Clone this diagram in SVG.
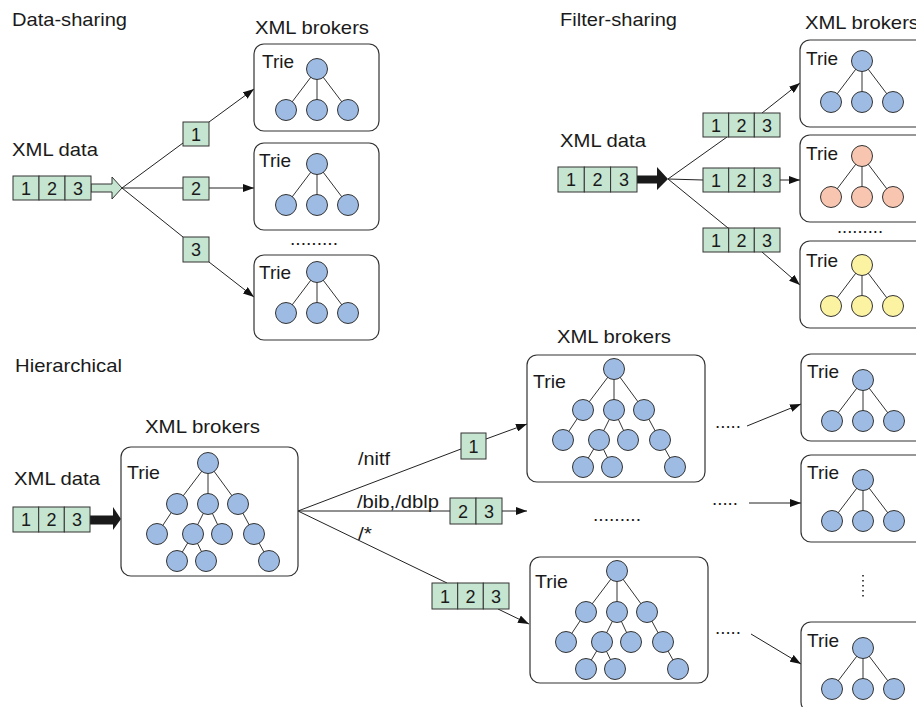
<svg xmlns="http://www.w3.org/2000/svg" xmlns:xlink="http://www.w3.org/1999/xlink" width="916" height="707" viewBox="0 0 916 707">
<style>
text{font-family:"Liberation Sans",Arial,sans-serif;fill:#1a1a1a}
.h{font-size:19px}
.t{font-size:18.5px}
.d{font-size:18px;text-anchor:middle}
.dots{font-size:18px}
.box{fill:#fff;stroke:#333;stroke-width:1.2}
.cell{fill:#c6e5d0;stroke:#333;stroke-width:1}
.e{stroke:#333;stroke-width:1;fill:none}
.c{stroke:#333;stroke-width:1}
.ln{stroke:#222;stroke-width:1;fill:none}
.arr{marker-end:url(#ah)}
.blue{fill:#9dbbe3}
.pink{fill:#f8c5b0}
.yel{fill:#fbf2a2}
</style>
<defs>
<marker id="ah" markerUnits="userSpaceOnUse" markerWidth="12" markerHeight="8" refX="11" refY="4" orient="auto">
<path d="M0,0 L11,4 L0,8 z" fill="#111"/>
</marker>
<g id="tree3">
<path class="e" d="M0,0 L-31,41 M0,0 L0,41 M0,0 L31,41"/>
<circle class="c" cx="0" cy="0" r="10.5"/>
<circle class="c" cx="-31" cy="41" r="10.5"/>
<circle class="c" cx="0" cy="41" r="10.5"/>
<circle class="c" cx="31" cy="41" r="10.5"/>
</g>
<g id="treeBig">
<path class="e" d="M0,0 L-31,41 M0,0 L0,41 M0,0 L30,41 M-31,41 L-51,71 M0,41 L-15,71 M0,41 L14,71 M30,41 L46,71 M-15,71 L-31,98 M-15,71 L-2,98 M46,71 L61,98"/>
<circle class="c" cx="0" cy="0" r="10.5"/>
<circle class="c" cx="-31" cy="41" r="10.5"/>
<circle class="c" cx="0" cy="41" r="10.5"/>
<circle class="c" cx="30" cy="41" r="10.5"/>
<circle class="c" cx="-51" cy="71" r="10.5"/>
<circle class="c" cx="-15" cy="71" r="10.5"/>
<circle class="c" cx="14" cy="71" r="10.5"/>
<circle class="c" cx="46" cy="71" r="10.5"/>
<circle class="c" cx="-31" cy="98" r="10.5"/>
<circle class="c" cx="-2" cy="98" r="10.5"/>
<circle class="c" cx="61" cy="98" r="10.5"/>
</g>
</defs>
<rect width="916" height="707" fill="#fff"/>

<!-- section titles -->
<text class="h" x="12" y="26" textLength="115" lengthAdjust="spacingAndGlyphs">Data-sharing</text>
<text class="h" x="560" y="26" textLength="117" lengthAdjust="spacingAndGlyphs">Filter-sharing</text>
<text class="h" x="15" y="372" textLength="107" lengthAdjust="spacingAndGlyphs">Hierarchical</text>
<text class="h" x="255" y="34" textLength="114" lengthAdjust="spacingAndGlyphs">XML brokers</text>
<text class="h" x="805" y="29" textLength="114" lengthAdjust="spacingAndGlyphs">XML brokers</text>
<text class="h" x="145" y="433" textLength="115" lengthAdjust="spacingAndGlyphs">XML brokers</text>
<text class="h" x="557" y="343" textLength="114" lengthAdjust="spacingAndGlyphs">XML brokers</text>

<!-- connectors -->
<g id="connectors">
<path d="M91,184 L112,184 L112,177 L122,188 L112,199 L112,192 L91,192 z" fill="#c6e5d0" stroke="#333" stroke-width="1"/>
<line class="ln" x1="122" y1="188" x2="183" y2="143"/>
<line class="ln" x1="122" y1="188" x2="183" y2="188"/>
<line class="ln" x1="122" y1="188" x2="183" y2="237"/>
<line class="ln arr" x1="209" y1="122" x2="254" y2="89"/>
<line class="ln arr" x1="209" y1="188" x2="254" y2="188"/>
<line class="ln arr" x1="209" y1="262" x2="254" y2="297"/>

<path d="M637,175.5 L657,175.5 L657,167 L668,179 L657,190 L657,183.5 L637,183.5 z" fill="#1a1a1a"/>
<line class="ln" x1="668" y1="179" x2="727" y2="137"/>
<line class="ln" x1="668" y1="179" x2="703" y2="180"/>
<line class="ln" x1="668" y1="179" x2="728" y2="228"/>
<line class="ln arr" x1="762" y1="113" x2="800" y2="83"/>
<line class="ln arr" x1="780" y1="180" x2="800" y2="180"/>
<line class="ln arr" x1="762" y1="252" x2="800" y2="285"/>

<path d="M90,515.5 L113,515.5 L113,507 L121,519 L113,530 L113,524.5 L90,524.5 z" fill="#1a1a1a"/>
<line class="ln" x1="298" y1="511" x2="461" y2="449"/>
<line class="ln" x1="298" y1="511" x2="450" y2="511"/>
<line class="ln" x1="298" y1="511" x2="447" y2="583"/>
<line class="ln arr" x1="486" y1="439" x2="527" y2="424"/>
<line class="ln arr" x1="502" y1="511" x2="527" y2="511"/>
<line class="ln arr" x1="498" y1="609" x2="529" y2="624"/>
<line class="ln arr" x1="747" y1="426" x2="801" y2="404"/>
<line class="ln arr" x1="749" y1="503" x2="801" y2="503"/>
<line class="ln arr" x1="751" y1="634" x2="801" y2="664"/>
</g>

<!-- path labels -->
<text class="h" x="358" y="465" textLength="32" lengthAdjust="spacingAndGlyphs">/nitf</text>
<text class="h" x="357" y="508" textLength="82" lengthAdjust="spacingAndGlyphs">/bib,/dblp</text>
<text class="h" x="358" y="540" textLength="14" lengthAdjust="spacingAndGlyphs">/*</text>

<!-- data-sharing -->
<g id="ds-input">
<text class="h" x="12" y="156" textLength="86" lengthAdjust="spacingAndGlyphs">XML data</text>
<rect class="cell" x="13" y="176" width="26" height="24"/><rect class="cell" x="39" y="176" width="26" height="24"/><rect class="cell" x="65" y="176" width="26" height="24"/>
<text class="d" x="26" y="194.5">1</text><text class="d" x="52" y="194.5">2</text><text class="d" x="78" y="194.5">3</text>
</g>
<g id="ds-msg1"><rect class="cell" x="183" y="122" width="26" height="24"/><text class="d" x="196" y="140.5">1</text></g>
<g id="ds-msg2"><rect class="cell" x="183" y="177" width="26" height="23"/><text class="d" x="196" y="194.5">2</text></g>
<g id="ds-msg3"><rect class="cell" x="183" y="237" width="26" height="25"/><text class="d" x="196" y="256">3</text></g>
<g id="ds-broker1"><rect class="box" x="254" y="44" width="125" height="87" rx="10"/><text class="t" x="262" y="68" textLength="32" lengthAdjust="spacingAndGlyphs">Trie</text><use xlink:href="#tree3" x="317" y="69" class="blue"/></g>
<g id="ds-broker2"><rect class="box" x="254" y="143" width="125" height="87" rx="10"/><text class="t" x="259" y="167" textLength="32" lengthAdjust="spacingAndGlyphs">Trie</text><use xlink:href="#tree3" x="317" y="164" class="blue"/></g>
<text class="dots" x="290" y="245" textLength="48" lengthAdjust="spacingAndGlyphs">.........</text>
<g id="ds-broker3"><rect class="box" x="254" y="255" width="125" height="85" rx="10"/><text class="t" x="259" y="279" textLength="32" lengthAdjust="spacingAndGlyphs">Trie</text><use xlink:href="#tree3" x="317" y="272" class="blue"/></g>

<!-- filter-sharing -->
<g id="fs-input">
<text class="h" x="560" y="147" textLength="86" lengthAdjust="spacingAndGlyphs">XML data</text>
<rect class="cell" x="558" y="167" width="26.3" height="25"/><rect class="cell" x="584.3" y="167" width="26.3" height="25"/><rect class="cell" x="610.6" y="167" width="26.4" height="25"/>
<text class="d" x="571" y="186">1</text><text class="d" x="597.5" y="186">2</text><text class="d" x="624" y="186">3</text>
</g>
<g id="fs-msg1"><rect class="cell" x="703" y="113" width="25.7" height="24"/><rect class="cell" x="728.7" y="113" width="25.6" height="24"/><rect class="cell" x="754.3" y="113" width="25.7" height="24"/><text class="d" x="716" y="131.5">1</text><text class="d" x="741.5" y="131.5">2</text><text class="d" x="767" y="131.5">3</text></g>
<g id="fs-msg2"><rect class="cell" x="703" y="168" width="25.7" height="24"/><rect class="cell" x="728.7" y="168" width="25.6" height="24"/><rect class="cell" x="754.3" y="168" width="25.7" height="24"/><text class="d" x="716" y="186.5">1</text><text class="d" x="741.5" y="186.5">2</text><text class="d" x="767" y="186.5">3</text></g>
<g id="fs-msg3"><rect class="cell" x="703" y="228" width="25.7" height="24"/><rect class="cell" x="728.7" y="228" width="25.6" height="24"/><rect class="cell" x="754.3" y="228" width="25.7" height="24"/><text class="d" x="716" y="246.5">1</text><text class="d" x="741.5" y="246.5">2</text><text class="d" x="767" y="246.5">3</text></g>
<g id="fs-broker1"><rect class="box" x="800" y="40" width="140" height="87" rx="10"/><text class="t" x="806" y="65" textLength="32" lengthAdjust="spacingAndGlyphs">Trie</text><use xlink:href="#tree3" x="862" y="61" class="blue"/></g>
<g id="fs-broker2"><rect class="box" x="800" y="135" width="140" height="87" rx="10"/><text class="t" x="806" y="160" textLength="32" lengthAdjust="spacingAndGlyphs">Trie</text><use xlink:href="#tree3" x="862" y="156" class="pink"/></g>
<text class="dots" x="837" y="233" textLength="46" lengthAdjust="spacingAndGlyphs">.........</text>
<g id="fs-broker3"><rect class="box" x="800" y="241" width="140" height="87" rx="10"/><text class="t" x="806" y="267" textLength="32" lengthAdjust="spacingAndGlyphs">Trie</text><use xlink:href="#tree3" x="862" y="265" class="yel"/></g>

<!-- hierarchical -->
<g id="h-input">
<text class="h" x="14" y="485" textLength="86" lengthAdjust="spacingAndGlyphs">XML data</text>
<rect class="cell" x="13" y="507" width="25.7" height="25"/><rect class="cell" x="38.7" y="507" width="25.6" height="25"/><rect class="cell" x="64.3" y="507" width="25.7" height="25"/>
<text class="d" x="26" y="526">1</text><text class="d" x="51.5" y="526">2</text><text class="d" x="77" y="526">3</text>
</g>
<g id="h-root-broker"><rect class="box" x="121" y="447" width="177" height="129" rx="10"/><text class="t" x="127" y="479" textLength="33" lengthAdjust="spacingAndGlyphs">Trie</text><use xlink:href="#treeBig" x="208" y="463" class="blue"/></g>
<g id="h-msg1"><rect class="cell" x="461" y="433" width="25" height="26"/><text class="d" x="473.5" y="452.5">1</text></g>
<g id="h-msg2"><rect class="cell" x="450" y="498" width="26" height="26"/><rect class="cell" x="476" y="498" width="26" height="26"/><text class="d" x="463" y="517.5">2</text><text class="d" x="489" y="517.5">3</text></g>
<g id="h-msg3"><rect class="cell" x="432" y="583" width="25.7" height="26"/><rect class="cell" x="457.7" y="583" width="25.6" height="26"/><rect class="cell" x="483.3" y="583" width="25.7" height="26"/><text class="d" x="445" y="602.5">1</text><text class="d" x="470.5" y="602.5">2</text><text class="d" x="496" y="602.5">3</text></g>
<g id="h-broker-a"><rect class="box" x="527" y="355" width="178" height="127" rx="10"/><text class="t" x="533" y="388" textLength="33" lengthAdjust="spacingAndGlyphs">Trie</text><use xlink:href="#treeBig" x="614" y="369" class="blue"/></g>
<text class="dots" x="593" y="521" textLength="48" lengthAdjust="spacingAndGlyphs">.........</text>
<g id="h-broker-b"><rect class="box" x="530" y="557" width="178" height="126" rx="10"/><text class="t" x="535" y="588" textLength="33" lengthAdjust="spacingAndGlyphs">Trie</text><use xlink:href="#treeBig" x="617" y="571" class="blue"/></g>
<text class="dots" x="715" y="428" textLength="26" lengthAdjust="spacingAndGlyphs">.....</text>
<text class="dots" x="712" y="505" textLength="26" lengthAdjust="spacingAndGlyphs">.....</text>
<text class="dots" x="715" y="634" textLength="26" lengthAdjust="spacingAndGlyphs">.....</text>
<line x1="863" y1="575" x2="863" y2="598" stroke="#222" stroke-width="1.6" stroke-dasharray="1.6,3.4"/>
<g id="h-leaf1"><rect class="box" x="801" y="354" width="140" height="87" rx="10"/><text class="t" x="807" y="378" textLength="32" lengthAdjust="spacingAndGlyphs">Trie</text><use xlink:href="#tree3" x="863" y="380" class="blue"/></g>
<g id="h-leaf2"><rect class="box" x="801" y="455" width="140" height="87" rx="10"/><text class="t" x="807" y="479" textLength="32" lengthAdjust="spacingAndGlyphs">Trie</text><use xlink:href="#tree3" x="863" y="480" class="blue"/></g>
<g id="h-leaf3"><rect class="box" x="801" y="622" width="140" height="90" rx="10"/><text class="t" x="807" y="647" textLength="32" lengthAdjust="spacingAndGlyphs">Trie</text><use xlink:href="#tree3" x="863" y="648" class="blue"/></g>
</svg>
